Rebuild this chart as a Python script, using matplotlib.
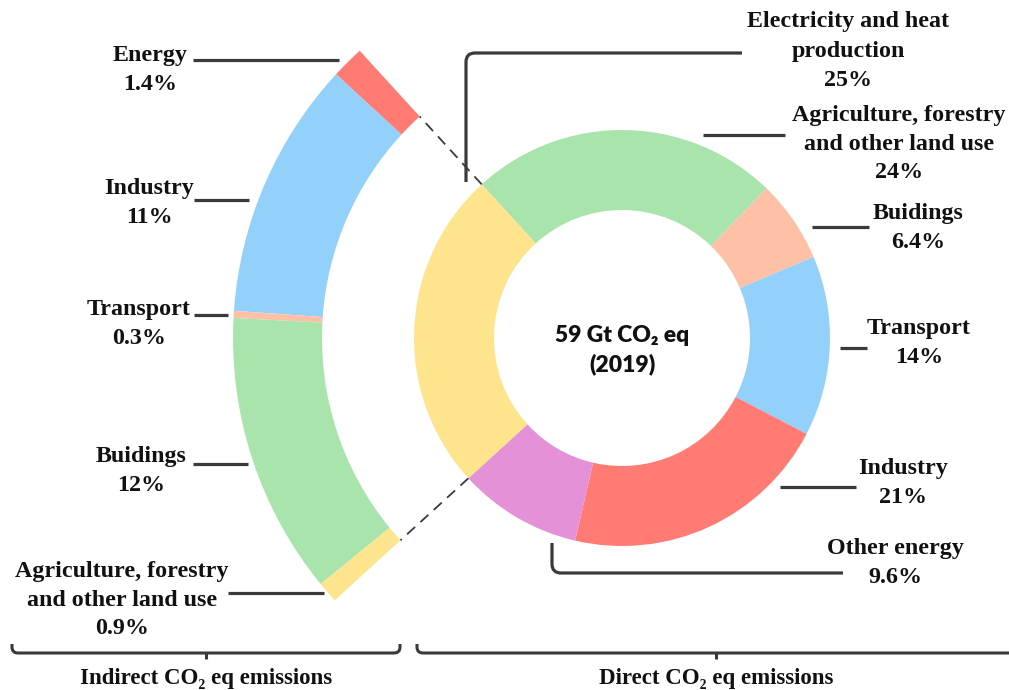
import matplotlib
matplotlib.use("Agg")
import matplotlib.pyplot as plt
from matplotlib.patches import Wedge, PathPatch
from matplotlib.path import Path
import numpy as np

W, H = 1009, 690

# direct emissions, clockwise from the top of the ring
direct_labels = ["Agriculture, forestry\nand other land use", "Buidings", "Transport",
                 "Industry", "Other energy", "Electricity and heat\nproduction"]
direct_share = [24, 6.4, 14, 21, 9.6, 25]
direct_colors = ["#a9e4ac", "#ffc1a5", "#93d1fb", "#ff7b73", "#e591d7", "#ffe48e"]

# indirect emissions split out of electricity and heat, top to bottom
indirect_labels = ["Energy", "Industry", "Transport", "Buidings",
                   "Agriculture, forestry\nand other land use"]
indirect_share = [1.4, 11, 0.3, 12, 0.9]
indirect_colors = ["#ff7b73", "#93d1fb", "#ffc1a5", "#a9e4ac", "#ffe48e"]

SERIF = ["Liberation Serif", "DejaVu Serif"]
SANS = ["Lato", "DejaVu Sans"]
LINE_C = "#3a3a3a"


def up(y):
    # layout numbers are measured from the top edge
    return H - y


def pct(v):
    return f"{v:g}%"


def rounded(ax, pts, r=9, lw=2.3):
    """Polyline through pts with rounded inner corners."""
    pts = [np.array((x, up(y)), float) for x, y in pts]
    verts, codes = [pts[0]], [Path.MOVETO]
    for a, b, c in zip(pts[:-2], pts[1:-1], pts[2:]):
        d1 = (b - a) / np.linalg.norm(b - a)
        d2 = (c - b) / np.linalg.norm(c - b)
        verts += [b - d1 * r, b, b + d2 * r]
        codes += [Path.LINETO, Path.CURVE3, Path.CURVE3]
    verts.append(pts[-1])
    codes.append(Path.LINETO)
    ax.add_patch(PathPatch(Path(verts, codes), fill=False, ec=LINE_C, lw=lw,
                           capstyle="butt"))


fig = plt.figure(figsize=(W / 100, H / 100), dpi=100)
ax = fig.add_axes([0, 0, 1, 1])

centre = (622, up(338))
r_out, ring_w = 208, 80
start = 132.4

ax.pie(direct_share, colors=direct_colors, startangle=start, counterclock=False,
       radius=r_out, center=centre,
       wedgeprops=dict(width=ring_w, linewidth=0))

# outer arc covering the same angles as the electricity wedge
span = 3.6 * direct_share[-1]
arc_out, arc_w = 389, 89
edges = start + np.cumsum([0] + indirect_share) * span / sum(indirect_share)
for t1, t2, col in zip(edges[:-1], edges[1:], indirect_colors):
    ax.add_patch(Wedge(centre, arc_out, t1, t2, width=arc_w, color=col, lw=0))

for ang in (start, start + span):
    c, s = np.cos(np.radians(ang)), np.sin(np.radians(ang))
    ax.plot([centre[0] + r_out * c, centre[0] + (arc_out - arc_w) * c],
            [centre[1] + r_out * s, centre[1] + (arc_out - arc_w) * s],
            color=LINE_C, lw=1.3, dashes=(6, 4))

ax.text(centre[0], up(350), "59 Gt CO\u2082 eq\n(2019)", ha="center", va="center",
        family=SANS, weight="heavy", fontsize=16.5, linespacing=1.45, color="#111111")

txt = dict(ha="center", va="center", family=SERIF, weight="bold", fontsize=17.3,
           linespacing=1.5, color="#111111")

# left labels: (x, y) of text block, leader line from x0 to x1 at ly
left_pos = [(150, 70), (149, 203), (139, 324), (141, 471), (122, 600)]
left_lead = [(193, 339, 60), (194, 249, 200), (194, 228, 315), (193, 248, 464),
             (228, 324, 593)]
for lab, v, (x, y), (x0, x1, ly) in zip(indirect_labels, indirect_share, left_pos, left_lead):
    ax.text(x, up(y), f"{lab}\n{pct(v)}", **txt)
    ax.plot([x0, x1], [up(ly), up(ly)], color=LINE_C, lw=2.3, solid_capstyle="butt")

right_pos = [(899, 144), (918, 228), (919, 343), (903, 483), (895, 563), (848, 51)]
for lab, v, (x, y) in zip(direct_labels, direct_share, right_pos):
    ax.text(x, up(y), f"{lab}\n{pct(v)}", **txt)

for x0, x1, ly in [(703, 785, 135), (812, 869, 227), (840, 867, 348), (780, 856, 487)]:
    ax.plot([x0, x1], [up(ly), up(ly)], color=LINE_C, lw=2.3, solid_capstyle="butt")
rounded(ax, [(466, 182), (466, 53), (742, 53)])
rounded(ax, [(552, 543), (552, 573), (843, 573)])

# group brackets along the bottom
for x0, x1, xm, name in [(12, 400, 206, "Indirect CO\u2082 eq emissions"),
                         (417, 1030, 716, "Direct CO\u2082 eq emissions")]:
    rounded(ax, [(x0, 644), (x0, 653), (x1, 653), (x1, 644)], r=6, lw=2.2)
    ax.plot([xm, xm], [up(653), up(659)], color=LINE_C, lw=2.2, solid_capstyle="butt")
    ax.text(xm, up(684), name, ha="center", va="baseline", family=SERIF,
            weight="bold", fontsize=16.5, color="#111111")

ax.set_xlim(0, W)
ax.set_ylim(0, H)
ax.set_aspect("equal")
ax.axis("off")

fig.savefig("out.png", dpi=100, facecolor="white")
